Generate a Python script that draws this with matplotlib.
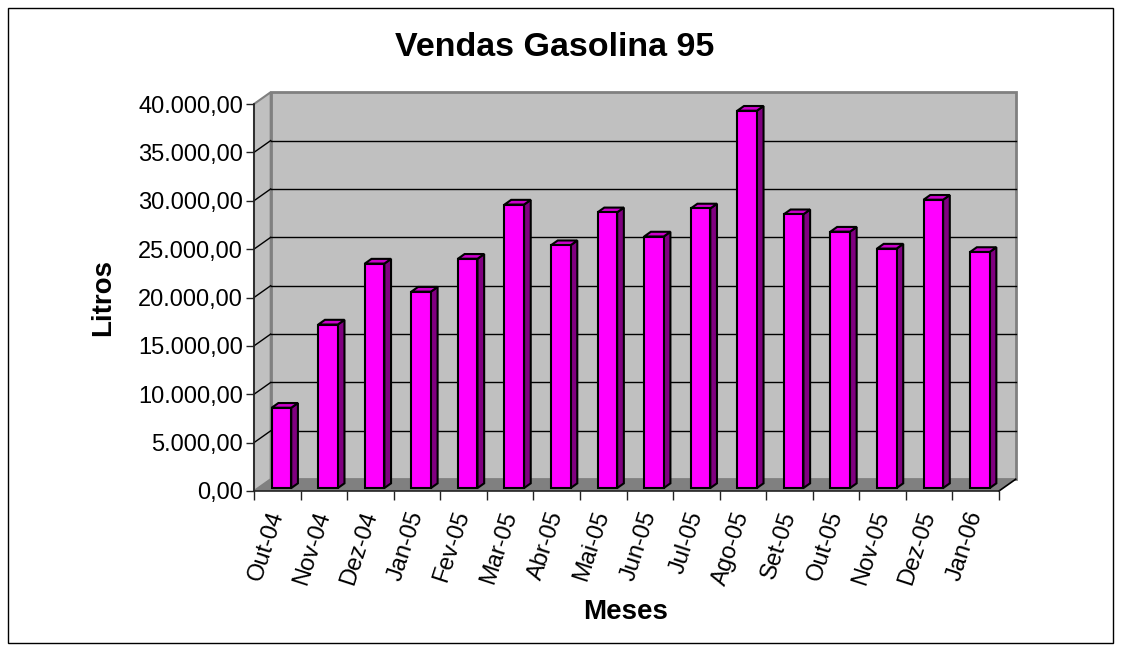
import numpy as np
import matplotlib
matplotlib.use('Agg')
import matplotlib.pyplot as plt
from matplotlib.patches import Polygon, Rectangle
from matplotlib.lines import Line2D
from matplotlib.transforms import Affine2D, IdentityTransform
from matplotlib.ticker import FuncFormatter

# data
meses = ['Out-04', 'Nov-04', 'Dez-04', 'Jan-05', 'Fev-05', 'Mar-05', 'Abr-05', 'Mai-05',
         'Jun-05', 'Jul-05', 'Ago-05', 'Set-05', 'Out-05', 'Nov-05', 'Dez-05', 'Jan-06']
litros = [8300, 16900, 23200, 20300, 23700, 29300, 25100, 28500,
          26000, 28900, 39000, 28300, 26500, 24750, 29800, 24400]
yticks = np.arange(0, 40001, 5000)

plt.rcParams['font.family'] = ['Liberation Sans', 'DejaVu Sans']

W, H = 1122, 651
fig = plt.figure(figsize=(W / 100, H / 100), dpi=100)
ax = fig.add_axes([254 / W, 1 - 491 / H, 745 / W, 387 / H])
ax.set_xlim(-0.5, len(meses) - 0.5)
ax.set_ylim(0, 40000)
ax.patch.set_visible(False)

# depth of the 3d box, in pixels
DX, DY = 16.7, 11.8
D0, D1 = 0.25, 0.65   # bar front / back depth
BW = 0.42
ident = IdentityTransform()


def proj(x, y, d):
    px, py = ax.transData.transform((x, y))
    return (px + d * DX, py + d * DY)


def poly(pts, fc, ec='none', lw=0, z=1):
    ax.add_patch(Polygon(pts, closed=True, facecolor=fc, edgecolor=ec, linewidth=lw,
                         transform=ident, clip_on=False, zorder=z, joinstyle='miter'))


def line(p0, p1, color, lw, z=2):
    ax.add_line(Line2D([p0[0], p1[0]], [p0[1], p1[1]], color=color, linewidth=lw,
                       transform=ident, clip_on=False, zorder=z))


x0, x1 = -0.5, len(meses) - 0.5
ymax = yticks[-1]

# walls and floor
poly([proj(x0, 0, 1), proj(x1, 0, 1), proj(x1, ymax, 1), proj(x0, ymax, 1)],
     '#c0c0c0', '#808080', 2, z=1)
poly([proj(x0, 0, 0), proj(x0, ymax, 0), proj(x0, ymax, 1), proj(x0, 0, 1)],
     '#c0c0c0', '#808080', 1.5, z=1)
poly([proj(x0, 0, 0), proj(x1, 0, 0), proj(x1, 0, 1), proj(x0, 0, 1)], '#808080', z=1.5)
line(proj(x1, 0, 0), proj(x1, 0, 1), 'black', 1.2)

# gridlines on back wall and side wall
for v in yticks[1:-1]:
    line(proj(x0, v, 1), proj(x1, v, 1), 'black', 1.0)
    line(proj(x0, v, 0), proj(x0, v, 1), 'black', 1.0)

# bars: front faces through ax.bar, shifted into the depth
xs = np.arange(len(meses))
ax.bar(xs, litros, width=BW, color='#ff00ff', edgecolor='black', linewidth=1.5,
       transform=ax.transData + Affine2D().translate(D0 * DX, D0 * DY), zorder=5,
       clip_on=False)
for i, v in enumerate(litros):
    l, r = i - BW / 2, i + BW / 2
    poly([proj(r, 0, D0), proj(r, v, D0), proj(r, v, D1), proj(r, 0, D1)],
         '#800080', 'black', 1.5, z=4)
    poly([proj(l, v, D0), proj(r, v, D0), proj(r, v, D1), proj(l, v, D1)],
         '#cc00cc', 'black', 1.5, z=4)

# axes
for s in ['top', 'right']:
    ax.spines[s].set_visible(False)
for s in ['left', 'bottom']:
    ax.spines[s].set_color('#222222')
    ax.spines[s].set_linewidth(1.2)
    ax.spines[s].set_zorder(3)


def fmt(v, pos):
    s = f'{v:,.2f}'
    return s.replace(',', 'X').replace('.', ',').replace('X', '.')


ax.set_yticks(yticks)
ax.yaxis.set_major_formatter(FuncFormatter(fmt))
ax.tick_params(axis='y', direction='out', length=6, width=1, color='#222222',
               labelsize=17, pad=2)

ax.set_xticks(xs)
ax.set_xticklabels(meses, rotation=72, ha='right', va='center', rotation_mode='anchor')
ax.set_xticks(np.arange(-0.5, len(meses)), minor=True)
ax.tick_params(axis='x', which='major', length=0, labelsize=17, pad=15)
ax.tick_params(axis='x', which='minor', direction='out', length=6.5, width=1, color='#222222')

fig.text(554.5 / W, 1 - 47 / H, 'Vendas Gasolina 95', ha='center', va='center',
         fontsize=24.5, fontweight='bold')
fig.text(103 / W, 1 - 297 / H, 'Litros', ha='center', va='center', rotation=90,
         fontsize=20, fontweight='bold')
fig.text(626 / W, 1 - 612 / H, 'Meses', ha='center', va='center',
         fontsize=20, fontweight='bold')

fig.add_artist(Rectangle((8 / W, 8 / H), (1113 - 8) / W, (643 - 8) / H,
                         transform=fig.transFigure, fill=False, edgecolor='black', linewidth=1))

fig.savefig('out.png', dpi=100)
